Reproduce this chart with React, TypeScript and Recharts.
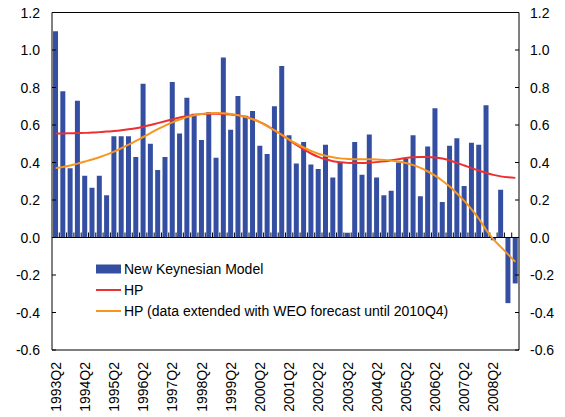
import React from 'react'
import {
  ComposedChart, Bar, Line, XAxis, YAxis, ReferenceLine, Legend
} from 'recharts'

// quarters 1993Q2 .. 2009Q1
const startYear = 1993
const quarters: string[] = Array.from({ length: 64 }, (_, i) => {
  const q = i + 1 // 1993Q2 is index 0
  return `${startYear + Math.floor(q / 4)}Q${(q % 4) + 1}`
})

const newKeynesian = [
  1.10, 0.78, 0.37, 0.73, 0.33, 0.265, 0.33, 0.225, 0.54, 0.54, 0.54, 0.43, 0.82, 0.50, 0.36, 0.43,
  0.83, 0.555, 0.745, 0.66, 0.52, 0.67, 0.425, 0.96, 0.575, 0.755, 0.65, 0.675, 0.49, 0.445, 0.70, 0.915,
  0.545, 0.395, 0.51, 0.39, 0.365, 0.495, 0.32, 0.40, 0.025, 0.51, 0.335, 0.55, 0.32, 0.225, 0.25, 0.40,
  0.42, 0.545, 0.22, 0.485, 0.69, 0.19, 0.49, 0.53, 0.275, 0.505, 0.495, 0.705, -0.015, 0.255, -0.35, -0.245,
]

const hp = [
  0.555, 0.555, 0.556, 0.557, 0.558, 0.560, 0.562, 0.565, 0.568, 0.572, 0.577, 0.583, 0.591, 0.600, 0.610, 0.620,
  0.630, 0.640, 0.648, 0.654, 0.658, 0.660, 0.660, 0.659, 0.656, 0.652, 0.644, 0.632, 0.615, 0.595, 0.572, 0.547,
  0.520, 0.494, 0.470, 0.448, 0.430, 0.417, 0.407, 0.401, 0.398, 0.397, 0.397, 0.399, 0.402, 0.406, 0.412, 0.418,
  0.424, 0.428, 0.430, 0.430, 0.427, 0.421, 0.411, 0.398, 0.384, 0.370, 0.357, 0.345, 0.334, 0.326, 0.321, 0.318,
]

const hpExtended = [
  0.370, 0.376, 0.384, 0.394, 0.405, 0.416, 0.428, 0.442, 0.458, 0.476, 0.495, 0.515, 0.536, 0.557, 0.578, 0.597,
  0.614, 0.629, 0.642, 0.652, 0.659, 0.663, 0.664, 0.663, 0.659, 0.652, 0.643, 0.631, 0.615, 0.594, 0.571, 0.547,
  0.522, 0.500, 0.480, 0.462, 0.447, 0.436, 0.428, 0.422, 0.419, 0.417, 0.417, 0.417, 0.416, 0.414, 0.410, 0.405,
  0.397, 0.386, 0.371, 0.352, 0.330, 0.303, 0.272, 0.235, 0.195, 0.150, 0.100, 0.040, -0.010, -0.050, -0.090, -0.130,
]

const yTicks = [-0.6, -0.4, -0.2, 0.0, 0.2, 0.4, 0.6, 0.8, 1.0, 1.2]

const chartData = quarters.map((q, i) => ({
  quarter: q,
  nk: newKeynesian[i],
  hp: hp[i],
  hpExt: hpExtended[i],
}))

const FONT = '"Liberation Sans", Arial, sans-serif'
const BLUE = '#344fa2'
const RED = '#ec2f31'
const ORANGE = '#f7961e'

const LeftTick = (props: any) => {
  const { x, y, payload } = props
  return (
    <g>
      <line x1={x + 12} x2={x + 16} y1={y} y2={y} stroke="#000" />
      <text x={x} y={y} dy="0.36em" textAnchor="end" fontSize={14} fill="#000" fontFamily={FONT}>
        {Number(payload.value).toFixed(1)}
      </text>
    </g>
  )
}

const RightTick = (props: any) => {
  const { x, y, payload } = props
  return (
    <g>
      <line x1={x - 11} x2={x - 15} y1={y} y2={y} stroke="#000" />
      <text x={x} y={y} dy="0.36em" textAnchor="start" fontSize={14} fill="#000" fontFamily={FONT}>
        {Number(payload.value).toFixed(1)}
      </text>
    </g>
  )
}

const QuarterTick = (props: any) => {
  const { x, y, payload } = props
  return (
    <text x={x} y={y} dy="0.36em" textAnchor="end" fontSize={14} fill="#000" fontFamily={FONT}
      transform={`rotate(-90, ${x}, ${y})`}>
      {payload.value}
    </text>
  )
}

// zero line with small inside ticks between quarters
const ZeroAxis = (props: any) => {
  const { x1, x2, y1 } = props
  const step = (x2 - x1) / quarters.length
  return (
    <g>
      <line x1={x1} x2={x2} y1={y1} y2={y1} stroke="#000" strokeWidth={1} />
      {quarters.slice(1).map((_, k) => (
        <line key={k} x1={x1 + (k + 1) * step} x2={x1 + (k + 1) * step} y1={y1 - 5} y2={y1} stroke="#000" />
      ))}
    </g>
  )
}

const legendItems = [
  { label: 'New Keynesian Model', color: BLUE, kind: 'bar' },
  { label: 'HP', color: RED, kind: 'line' },
  { label: 'HP (data extended with WEO forecast until 2010Q4)', color: ORANGE, kind: 'line' },
]

const LegendBox = () => (
  <div style={{ fontFamily: FONT, fontSize: 14, color: '#000' }}>
    {legendItems.map(it => (
      <div key={it.label} style={{ display: 'flex', alignItems: 'center', height: 21, whiteSpace: 'nowrap' }}>
        <svg width={25} height={10} style={{ marginRight: 3 }}>
          {it.kind === 'bar'
            ? <rect x={0} y={0.5} width={25} height={9} fill={it.color} />
            : <line x1={0} x2={25} y1={5} y2={5} stroke={it.color} strokeWidth={2} />}
        </svg>
        <span>{it.label}</span>
      </div>
    ))}
  </div>
)

export default function App() {
  return (
    <div style={{ width: 565, height: 417, background: '#fff' }}>
      <style>{'body{margin:0}'}</style>
      <ComposedChart width={565} height={417} data={chartData}
        margin={{ top: 12.5, right: 0, left: 0, bottom: 0 }} barCategoryGap="14%">
        <XAxis dataKey="quarter" height={67} interval={3} tickSize={0} tickMargin={12}
          tick={<QuarterTick />} axisLine={{ stroke: '#000' }} tickLine={false} />
        <YAxis yAxisId="left" width={52} domain={[-0.6, 1.2]} ticks={yTicks} allowDataOverflow
          tickSize={0} tickMargin={12} tick={<LeftTick />} axisLine={{ stroke: '#000' }} tickLine={false} />
        <YAxis yAxisId="right" orientation="right" width={46} domain={[-0.6, 1.2]} ticks={yTicks} allowDataOverflow
          tickSize={0} tickMargin={11} tick={<RightTick />} axisLine={{ stroke: '#000' }} tickLine={false} />
        <Bar yAxisId="left" dataKey="nk" name="New Keynesian Model" fill={BLUE} isAnimationActive={false} />
        <ReferenceLine yAxisId="left" y={0} shape={<ZeroAxis />} />
        <ReferenceLine yAxisId="left" y={1.2} stroke="#000" />
        <Line yAxisId="left" type="monotone" dataKey="hp" name="HP" stroke={RED} strokeWidth={2}
          dot={false} activeDot={false} isAnimationActive={false} />
        <Line yAxisId="left" type="monotone" dataKey="hpExt" name="HP (data extended with WEO forecast until 2010Q4)"
          stroke={ORANGE} strokeWidth={2} dot={false} activeDot={false} isAnimationActive={false} />
        <Legend layout="vertical" align="center" verticalAlign="middle" content={<LegendBox />}
          wrapperStyle={{ left: 96, top: 258, width: 'auto' }} />
      </ComposedChart>
    </div>
  )
}
